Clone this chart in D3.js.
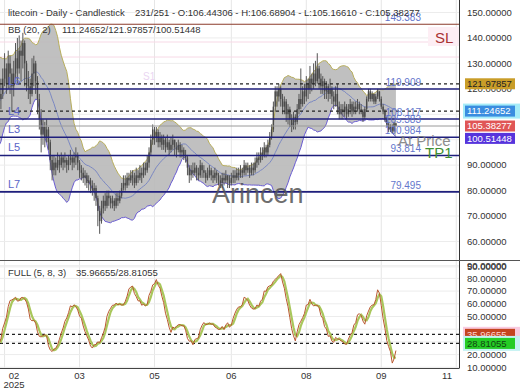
<html lang="en">
<head>
  <title>litecoin - Daily - Candlestick</title>
  <meta charset="utf-8">
  <script src="https://cdn.jsdelivr.net/npm/d3@7"></script>
  <style>
    body { margin: 0; background: #fff; }
    svg text { font-family: 'Liberation Sans', Arial, sans-serif; }
  </style>
</head>

<body>
  <svg id="chart" width="520" height="390"></svg>
</body>

<script>

// 20 warm-up candles (left of the window, needed for BB / stoch) + the visible candles
var pre_closes = [104,98,101,107,112,109,116,121,118,126,131,127,122,119,124,117,112,108,113,116];
var pre_highs  = [108,105,103,109,114,113,118,123,122,128,134,132,128,123,126,125,119,114,116,119];
var pre_lows   = [99,96,97,100,106,106,109,115,115,117,124,124,120,116,118,115,110,105,107,111];
var first_open = 101;

var closes = [118,124,128,122,130,126,121,126,132,128, 135,133,138,130,124,121,118,126,130,123,
              116,108,102,105,101,104,99,92,88,91, 89,92,90,93,91,92,90,92,93,91,
              93,94,91,88,87,85,86,83,84,82, 80,81,77,72,68,73,76,74,78,77,
              75,76,74,77,76,78,81,83,82,85, 84,86,85,83,86,85,87,86,89,88,
              91,95,100,104,101,103,99,101,98,100, 97,99,96,98,100,97,96,98,95,96,
              94,93,89,86,88,87,89,87,86,90, 88,87,85,86,88,86,85,87,86,84,
              83,85,84,86,84,83,85,86,85,87, 86,88,87,90,88,89,87,89,88,91,
              93,92,95,94,97,95,98,101,104,113, 119,117,120,116,113,115,110,112,108,105,
              109,107,112,116,114,119,117,122,120,124, 122,126,123,128,124,121,123,119,121,118,
              120,117,115,118,113,110,112,111,113,110, 112,114,111,113,112,114,112,
              111,109,112,116,119,116,118,115,117,119, 116,113,111,108,106,104,105,103.5,106.44306,105.38277];

var highs = [124,128,134,130,135,133,128,131,138,140, 141,139,142,139,131,127,124,132,133,131,
             125,118,112,108,107,108,105,100,94,94, 93,95,94,95,94,95,93,94,96,94,
             95,97,95,92,90,89,88,87,86,85, 84,83,82,78,74,76,78,79,80,80,
             78,78,77,79,79,80,83,86,86,87, 87,88,88,87,89,88,90,89,91,91,
             94,97,102,106,105,105,104,103,102,102, 101,102,100,101,102,100,99,100,99,98,
             97,96,94,90,90,91,91,90,89,92, 91,90,88,89,90,89,88,89,88,87,
             86,87,87,88,86,86,87,88,88,89, 89,90,89,92,91,91,90,91,91,93,
             95,95,97,97,99,98,100,103,106,115, 121,121,122,121,118,117,116,114,113,110,
             111,110,114,118,128,121,122,125,124,129, 126,130,131,134,129,126,125,124,123,122,
             124,121,119,121,122,115,114,114,115,114, 114,116,115,115,115,116,115,
             114,112,113,117,120,120,119,118,118,120, 119,117,114,112,109,107,106,106,107,106.68904];

var lows = [112,116,121,118,120,118,111,117,124,122, 126,123,128,121,119,116,114,117,121,118,
            110,104,95,98,97,99,96,88,84,86, 86,88,87,89,88,89,87,88,90,88,
            89,90,88,85,84,83,82,81,80,79, 78,76,74,66,63,67,71,72,73,74,
            73,73,72,73,74,75,77,80,80,81, 82,83,82,81,82,83,84,83,85,86,
            87,89,94,98,98,99,97,97,96,96, 95,96,94,95,96,94,93,95,93,93,
            92,91,86,83,84,85,86,84,84,85, 85,85,83,84,85,84,83,84,83,82,
            81,81,82,83,81,81,82,83,83,84, 84,85,85,86,86,87,85,86,86,87,
            89,90,91,92,93,93,94,97,100,103, 111,113,115,113,110,110,107,106,105,103,
            104,104,106,110,112,113,114,115,116,118, 119,120,121,122,120,118,118,116,116,115,
            116,114,112,113,110,108,108,108,109,108, 109,110,109,110,110,111,110,
            110,107,108,111,115,115,115,114,114,116, 115,112,110,107,105,103,103,102.5,103,105.1661];

var slots = 251;

var tick_index = [2, 43, 84, 126, 167, 208, 249];
var tick_labels = ['02', '03', '05', '06', '08', '09', '11'];

var price_ticks = [150, 140, 130, 120, 110, 100, 90, 80, 70, 60, 50];
var stoch_ticks = [90, 80, 70, 60, 50, 40, 30, 20, 10];

var level_values = [119.909, 108.117, 100.984, 93.814, 79.495];
var level_names  = ['L6', 'L4', 'L3', 'L5', 'L7'];
var sl_value = 145.383;
var last_close = 105.38277;
var faint_levels = [138.4, 132.5];

var bb_now = [111.24652, 121.97857, 100.51448];   // middle / upper / lower
var stoch_now = [35.96655, 28.81055];             // %K / %D

var svg = d3.select('#chart');
var W = 520, plot_right = 459, main_bottom = 260, stoch_top = 261, stoch_bottom = 368;

var xScale = d3.scaleLinear().domain([0, slots]).range([0, plot_right]);
var yScale = d3.scaleLinear().domain([50, 150]).range([266.9, 12.5]);
var sScale = d3.scaleLinear().domain([0, 100]).range([380, 253]);

var candles = [];

setup();

/*******************************************************************************/

function setup(){
  buildCandles();
  var defs = svg.append('defs');
  defs.append('clipPath').attr('id', 'clip_main').append('rect').attr('x', 0).attr('y', 0).attr('width', plot_right).attr('height', main_bottom);
  defs.append('clipPath').attr('id', 'clip_stoch').append('rect').attr('x', 0).attr('y', stoch_top).attr('width', plot_right).attr('height', stoch_bottom - stoch_top);

  drawGrid();
  drawMain();
  drawStoch();
  drawAxes();
  drawTexts();
}

function buildCandles(){
  var c = pre_closes.concat(closes), h = pre_highs.concat(highs), l = pre_lows.concat(lows);
  for(var i = 0; i < c.length; i++){
    var o = i == 0 ? first_open : c[i-1];
    candles.push({ pos: i - pre_closes.length, o: o, c: c[i],
                   h: Math.max(h[i], o, c[i]), l: Math.min(l[i], o, c[i]) });
  }

  // Bollinger (20, 2)
  candles.forEach(function(d, i){
    if(i < 19){ return; }
    var win = candles.slice(i - 19, i + 1).map(function(e){ return e.c; });
    var m = d3.mean(win), sd = Math.sqrt(d3.mean(win.map(function(v){ return (v - m)*(v - m); })));
    d.mid = m; d.up = m + 2*sd; d.lo = m - 2*sd;
  });

  // full stochastic (5, 8, 3)
  candles.forEach(function(d, i){
    if(i < 4){ return; }
    var win = candles.slice(i - 4, i + 1);
    var hh = d3.max(win, function(e){ return e.h; }), ll = d3.min(win, function(e){ return e.l; });
    d.raw = hh == ll ? 50 : 100*(d.c - ll)/(hh - ll);
  });
  candles.forEach(function(d, i){
    if(i < 11){ return; }
    d.k = d3.mean(candles.slice(i - 7, i + 1), function(e){ return e.raw; });
  });
  candles.forEach(function(d, i){
    if(i < 13){ return; }
    d.d = d3.mean(candles.slice(i - 2, i + 1), function(e){ return e.k; });
  });
}

function cx(d){ return xScale(d.pos + 0.5); }

/*******************************************************************************/

function drawGrid(){
  var g = svg.append('g');
  g.selectAll('.vgrid').data(tick_index).enter().append('line')
    .attr('x1', function(d){ return xScale(d + 0.5); }).attr('x2', function(d){ return xScale(d + 0.5); })
    .attr('y1', 0).attr('y2', stoch_bottom).style('stroke', '#e6e6e6');
  g.selectAll('.hgrid').data(price_ticks).enter().append('line')
    .attr('x1', 0).attr('x2', plot_right)
    .attr('y1', function(d){ return yScale(d); }).attr('y2', function(d){ return yScale(d); })
    .style('stroke', '#ececec');
  g.selectAll('.sgrid').data(stoch_ticks).enter().append('line')
    .attr('x1', 0).attr('x2', plot_right)
    .attr('y1', function(d){ return sScale(d); }).attr('y2', function(d){ return sScale(d); })
    .style('stroke', '#ececec');
  g.selectAll('.faint').data(faint_levels).enter().append('line')
    .attr('x1', 0).attr('x2', plot_right)
    .attr('y1', function(d){ return yScale(d); }).attr('y2', function(d){ return yScale(d); })
    .style('stroke', '#f7d9e6');
}

function drawMain(){
  var g = svg.append('g').attr('clip-path', 'url(#clip_main)');
  var bb = candles.filter(function(d){ return d.mid != null; });

  g.append('path').datum(bb)
    .attr('d', d3.area().x(cx).y0(function(d){ return yScale(d.lo); }).y1(function(d){ return yScale(d.up); }))
    .style('fill', '#b9b9b9').style('opacity', 0.9);
  g.append('path').datum(bb).attr('d', d3.line().x(cx).y(function(d){ return yScale(d.up); }))
    .style('fill', 'none').style('stroke', '#b8ae5c').style('stroke-width', 1);
  g.append('path').datum(bb).attr('d', d3.line().x(cx).y(function(d){ return yScale(d.lo); }))
    .style('fill', 'none').style('stroke', '#6a5cd2').style('stroke-width', 1);
  g.append('path').datum(bb).attr('d', d3.line().x(cx).y(function(d){ return yScale(d.mid); }))
    .style('fill', 'none').style('stroke', '#7b88c2').style('stroke-width', 1);

  var c = g.selectAll('.candle').data(candles).enter().append('g').attr('class', 'candle');
  c.append('line').attr('x1', cx).attr('x2', cx)
    .attr('y1', function(d){ return yScale(d.h); }).attr('y2', function(d){ return yScale(d.l); })
    .style('stroke', '#555').style('stroke-width', 1);
  c.append('rect').attr('x', function(d){ return cx(d) - 0.7; }).attr('width', 1.4)
    .attr('y', function(d){ return yScale(Math.max(d.o, d.c)); })
    .attr('height', function(d){ return Math.max(1, yScale(Math.min(d.o, d.c)) - yScale(Math.max(d.o, d.c))); })
    .style('fill', '#4a4a4a');

  // levels
  g.append('line').attr('x1', 0).attr('x2', plot_right).attr('y1', yScale(sl_value)).attr('y2', yScale(sl_value))
    .style('stroke', '#8b3b2b').style('stroke-width', 1.2);
  g.append('line').attr('x1', 0).attr('x2', plot_right).attr('y1', yScale(last_close)).attr('y2', yScale(last_close))
    .style('stroke', '#9a9a9a').style('stroke-width', 1);
  g.selectAll('.level').data(level_values).enter().append('line')
    .attr('x1', 0).attr('x2', plot_right)
    .attr('y1', function(d){ return yScale(d); }).attr('y2', function(d){ return yScale(d); })
    .style('stroke', '#1f1f7c').style('stroke-width', 1.6);
  g.selectAll('.dash').data([bb_now[1], bb_now[0]]).enter().append('line')
    .attr('x1', 0).attr('x2', plot_right)
    .attr('y1', function(d){ return yScale(d); }).attr('y2', function(d){ return yScale(d); })
    .style('stroke', '#222').style('stroke-width', 1.2).style('stroke-dasharray', '3,3');

  g.selectAll('.lname').data(level_values).enter().append('text')
    .attr('x', 8).attr('y', function(d){ return yScale(d) - 4; })
    .style('font-size', '11px').style('fill', '#5a64c8')
    .text(function(d, i){ return level_names[i]; });

  var vals = [sl_value, level_values[0], level_values[1], last_close, level_values[2], level_values[3], level_values[4]];
  g.selectAll('.lval').data(vals).enter().append('text')
    .attr('x', 421).attr('y', function(d){ return yScale(d) - 3; })
    .attr('text-anchor', 'end').style('font-size', '10px').style('fill', '#6476cc')
    .text(function(d){ return d.toFixed(3); });
}

function drawStoch(){
  var g = svg.append('g').attr('clip-path', 'url(#clip_stoch)');
  var st = candles.filter(function(d){ return d.d != null; });

  g.selectAll('.sdash').data(stoch_now).enter().append('line')
    .attr('x1', 0).attr('x2', plot_right)
    .attr('y1', function(d){ return sScale(d); }).attr('y2', function(d){ return sScale(d); })
    .style('stroke', '#222').style('stroke-width', 1.2).style('stroke-dasharray', '3,3');

  g.append('path').datum(st).attr('d', d3.line().x(cx).y(function(d){ return sScale(d.d); }))
    .style('fill', 'none').style('stroke', '#a9c75c').style('stroke-width', 2.2);
  g.append('path').datum(st).attr('d', d3.line().x(cx).y(function(d){ return sScale(d.k); }))
    .style('fill', 'none').style('stroke', '#b9582f').style('stroke-width', 1);
}

/*******************************************************************************/

function drawAxes(){
  svg.append('line').attr('x1', plot_right + 0.5).attr('x2', plot_right + 0.5).attr('y1', 0).attr('y2', stoch_bottom + 0.5)
    .style('stroke', '#333');
  svg.append('line').attr('x1', 0).attr('x2', W).attr('y1', main_bottom + 0.5).attr('y2', main_bottom + 0.5)
    .style('stroke', '#555');
  svg.append('line').attr('x1', 0).attr('x2', plot_right).attr('y1', stoch_bottom + 0.5).attr('y2', stoch_bottom + 0.5)
    .style('stroke', '#444');

  // current value boxes
  var boxes = [
    { v: bb_now[1], s: yScale, bg: '#c99d28', fg: '#222', halo: null },
    { v: bb_now[0], s: yScale, bg: '#3a8de0', fg: '#fff', halo: '#a6ecf8' },
    { v: last_close, s: yScale, bg: '#e05656', fg: '#fff', halo: null },
    { v: bb_now[2], s: yScale, bg: '#5634dc', fg: '#fff', halo: null },
    { v: stoch_now[0], s: sScale, bg: '#c4441f', fg: '#ffd4d4', halo: '#f9cbe0' },
    { v: stoch_now[1], s: sScale, bg: '#25cc25', fg: '#124412', halo: '#c4f2f2' }
  ];

  // tick labels that sit fully behind a value box are not drawn
  function covered(y){
    return boxes.some(function(b){ return Math.abs(b.s(b.v) - y) < 4; });
  }

  svg.selectAll('.ptick').data(price_ticks.filter(function(d){ return !covered(yScale(d)); })).enter().append('text')
    .attr('x', 467).attr('y', function(d){ return yScale(d); }).attr('dy', '0.35em')
    .style('font-size', '9.5px').style('fill', '#333')
    .text(function(d){ return d.toFixed(5); });
  svg.selectAll('.stick').data(stoch_ticks.filter(function(d){ return !covered(sScale(d)); })).enter().append('text')
    .attr('x', 467).attr('y', function(d){ return sScale(d); }).attr('dy', '0.35em')
    .style('font-size', '9.5px').style('fill', '#333')
    .text(function(d){ return d.toFixed(5); });

  svg.selectAll('.xtick').data(tick_index).enter().append('text')
    .attr('x', function(d){ return Math.max(14, Math.min(447, xScale(d + 0.5))); }).attr('y', 379)
    .attr('text-anchor', 'middle').style('font-size', '9.5px').style('fill', '#333')
    .text(function(d, i){ return tick_labels[i]; });
  svg.append('text').attr('x', 14).attr('y', 388).attr('text-anchor', 'middle')
    .style('font-size', '9.5px').style('fill', '#333').text('2025');

  boxes.forEach(function(b){
    var y = b.s(b.v);
    if(b.halo){ svg.append('rect').attr('x', 463).attr('y', y - 7.5).attr('width', 57).attr('height', 15).style('fill', b.halo); }
    svg.append('rect').attr('x', 465).attr('y', y - 5.5).attr('width', 50).attr('height', 11).style('fill', b.bg);
    svg.append('text').attr('x', 467).attr('y', y).attr('dy', '0.35em')
      .style('font-size', '9.5px').style('fill', b.fg).text(b.v.toFixed(5));
  });
}

function drawTexts(){
  svg.append('text').attr('x', 8).attr('y', 16).style('font-size', '9.5px').style('fill', '#333')
    .text('litecoin - Daily - Candlestick');
  svg.append('text').attr('x', 135).attr('y', 16).style('font-size', '9.5px').style('fill', '#333')
    .text('231/251 - O:106.44306 - H:106.68904 - L:105.16610 - C:105.38277');
  svg.append('text').attr('x', 8).attr('y', 33).style('font-size', '9.5px').style('fill', '#333')
    .text('BB (20, 2)');
  svg.append('text').attr('x', 62).attr('y', 33).style('font-size', '9.5px').style('fill', '#333')
    .text(bb_now.map(function(v){ return v.toFixed(5); }).join('/'));
  svg.append('text').attr('x', 8).attr('y', 276).style('font-size', '9.5px').style('fill', '#333')
    .text('FULL (5, 8, 3)');
  svg.append('text').attr('x', 76).attr('y', 276).style('font-size', '9.5px').style('fill', '#333')
    .text(stoch_now.map(function(v){ return v.toFixed(5); }).join('/'));

  svg.append('rect').attr('x', 428).attr('y', 27).attr('width', 31).attr('height', 19).style('fill', '#fdeef4');
  svg.append('text').attr('x', 435).attr('y', 43).style('font-size', '15px').style('fill', '#a83333').text('SL');
  svg.append('text').attr('x', 143).attr('y', 80).style('font-size', '10px').style('fill', '#ead6f2').text('S1');
  svg.append('text').attr('x', 398).attr('y', 146).style('font-size', '15px').style('fill', '#7a7a7a').style('opacity', 0.85).text('At Price');
  svg.append('text').attr('x', 425).attr('y', 158).style('font-size', '15px').style('fill', '#3f8f33').text('TP1');
  svg.append('text').attr('x', 212).attr('y', 203).style('font-size', '27px').style('fill', '#555').style('opacity', 0.85).text('Arincen');
}

</script>
</html>
